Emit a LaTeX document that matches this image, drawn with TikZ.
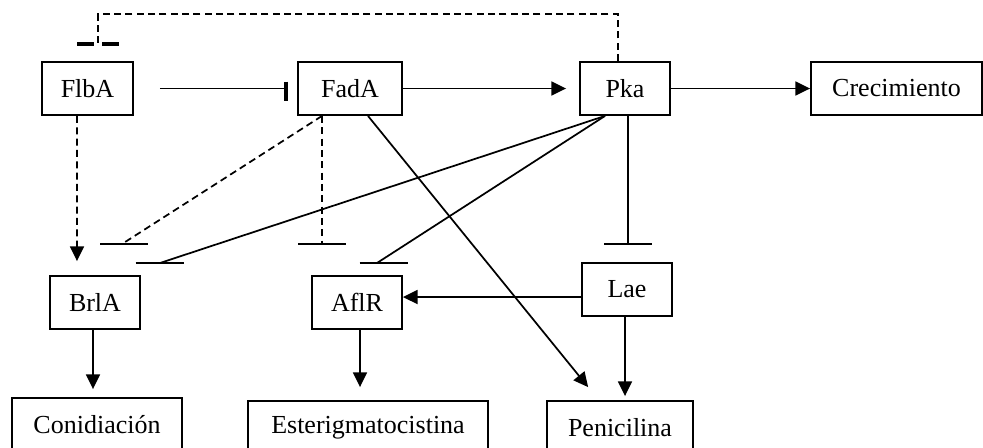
\documentclass[tikz,border=0pt]{standalone}
\usepackage{fontspec}
\setmainfont{Liberation Serif}
\usepackage{tikz}
\usetikzlibrary{arrows.meta, positioning, calc}

\begin{document}
\begin{tikzpicture}[x=0.75pt, y=-0.75pt,
    gene/.style={draw, line width=1.4pt, minimum height=39.75pt, inner sep=0pt,
                 font=\fontsize{19.5}{22}\selectfont},
    act/.style={line width=1.3pt, -{Triangle[length=11pt, width=10.5pt]}},
    dashline/.style={line width=1.3pt, dash pattern=on 5.25pt off 3.25pt},
    inhbar/.style={line width=1.7pt},
    dashbar/.style={line width=2.6pt, dash pattern=on 12.75pt off 6pt}]
    \useasboundingbox (0,0) rectangle (983,447);
    % top row: regulators and growth
    \node[gene, minimum width=68.25pt]  (flba) at (87.5,88.5)  {FlbA};
    \node[gene, minimum width=78pt]     (fada) at (350,88.5)   {FadA};
    \node[gene, minimum width=67.5pt]   (pka)  at (625,88.5)   {Pka};
    \node[gene, minimum width=128.25pt] (crec) at (896.5,88.5) {Crecimiento};
    % middle row: transcription factors
    \node[gene, minimum width=67.5pt] (brla) at (95,302.5)  {BrlA};
    \node[gene, minimum width=67.5pt] (aflr) at (357,302.5) {AflR};
    \node[gene, minimum width=67.5pt] (lae)  at (627,289.5) {Lae};
    % bottom row: outputs (cut by the page edge)
    \node[gene, minimum width=127.5pt] (coni)  at (97,424.5)  {Conidiación};
    \node[gene, minimum width=180pt]   (ester) at (368,427.5) {Esterigmatocistina};
    \node[gene, minimum width=109.5pt] (peni)  at (620,427.5) {Penicilina};
    % top row connectors
    \coordinate (fadabar) at (286,88.5);
    \draw[line width=1.3pt, shorten <=19.5pt] (flba) -- (fadabar);
    \draw[line width=2.8pt] ($(fadabar)+(0,-7)$) -- ($(fadabar)+(0,12)$);
    \draw[act, shorten >=9.75pt] (fada) -- (pka);
    \draw[act] (pka) -- (crec);
    % dashed feedback Pka -| FlbA
    \coordinate (flbabar) at (98,44);
    \draw[dashline] ([xshift=-5.25pt]pka.north) -- ++(0,-47) -| (flbabar);
    \draw[dashbar] ($(flbabar)+(-21,0)$) -- ($(flbabar)+(21,0)$);
    % FlbA activates BrlA
    \draw[act, dashline, shorten >=10.5pt] ([xshift=-7.9pt]flba.south) -- ([xshift=-13.5pt]brla.north);
    % inhibition ends above BrlA, AflR, Lae
    \coordinate (brlafad) at (124,244);
    \coordinate (brlapka) at (159.5,263);
    \coordinate (aflrfad) at (322,244);
    \coordinate (aflrpka) at (383.5,263);
    \coordinate (laepka)  at (628,244);
    \draw[dashline] ([xshift=-21pt]fada.south) -- ($(brlafad)+(-2,0)$);
    \draw[dashline] ([xshift=-21pt]fada.south) -- (aflrfad);
    \draw[line width=1.3pt] ([xshift=-15pt]pka.south) -- ($(brlapka)+(0.5,0)$);
    \draw[line width=1.3pt] ([xshift=-15pt]pka.south) -- ($(aflrpka)+(-6.5,0)$);
    \draw[line width=1.3pt] ([xshift=2.25pt]pka.south) -- (laepka);
    \draw[inhbar] ($(brlafad)+(-24,0)$) -- ($(brlafad)+(24,0)$);
    \draw[inhbar] ($(brlapka)+(-24,0)$) -- ($(brlapka)+(24,0)$);
    \draw[inhbar] ($(aflrfad)+(-24,0)$) -- ($(aflrfad)+(24,0)$);
    \draw[inhbar] ($(aflrpka)+(-24,0)$) -- ($(aflrpka)+(24,0)$);
    \draw[inhbar] ($(laepka)+(-24,0)$)  -- ($(laepka)+(24,0)$);
    % FadA activates Penicilina
    \draw[act, shorten >=12.5pt] ([xshift=13.5pt]fada.south) -- ([xshift=-16pt]peni.north);
    % Lae targets
    \draw[act] ([yshift=-5.6pt]lae.west) -- ([yshift=4.1pt]aflr.east);
    \draw[act, shorten >=3pt] ([xshift=-1.5pt]lae.south) -- ([xshift=3.75pt]peni.north);
    % outputs
    \draw[act, shorten >=9.75pt] ([xshift=2.25pt]aflr.south) -- ([xshift=-6pt]ester.north);
    \draw[act, shorten >=6pt] ([xshift=-1.5pt]brla.south) -- ([xshift=-3pt]coni.north);
\end{tikzpicture}
\end{document}
